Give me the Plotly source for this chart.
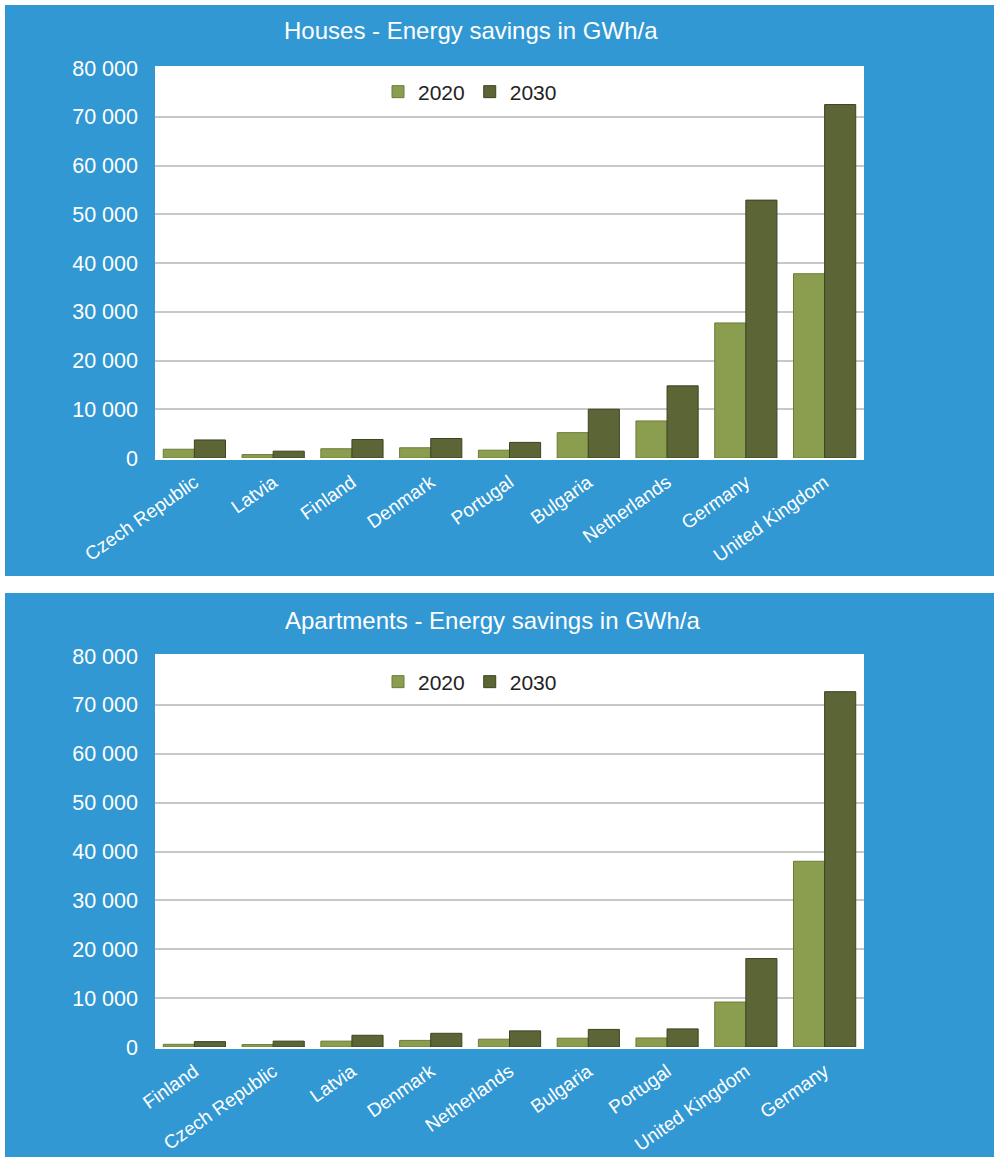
import plotly.graph_objects as go

# Energy savings (GWh/a) by country, houses
houses_countries = ["Czech Republic", "Latvia", "Finland", "Denmark", "Portugal",
                    "Bulgaria", "Netherlands", "Germany", "United Kingdom"]
houses_2020 = [1800, 700, 1900, 2100, 1600, 5200, 7600, 27700, 37800]
houses_2030 = [3700, 1400, 3800, 4000, 3200, 10000, 14800, 52900, 72500]

# Energy savings (GWh/a) by country, apartments
apt_countries = ["Finland", "Czech Republic", "Latvia", "Denmark", "Netherlands",
                 "Bulgaria", "Portugal", "United Kingdom", "Germany"]
apt_2020 = [550, 500, 1200, 1350, 1600, 1800, 1850, 9200, 38000]
apt_2030 = [1100, 1200, 2400, 2800, 3300, 3600, 3700, 18100, 72700]

series_names = ["2020", "2030"]
y_ticks = [0, 10000, 20000, 30000, 40000, 50000, 60000, 70000, 80000]

W, H = 994, 1159
BLUE = "#3298d3"
FONT = "Liberation Sans, Arial, sans-serif"
COL_2020 = "#8b9e50"
EDGE_2020 = "#6c7c38"
COL_2030 = "#5b6536"
EDGE_2030 = "#3c4422"


def py(px):
    """pixel row -> paper y"""
    return 1 - px / H


def px_x(px):
    return px / W


fig = go.Figure()

panels = [
    ("x", "y", "legend", houses_countries, houses_2020, houses_2030),
    ("x2", "y2", "legend2", apt_countries, apt_2020, apt_2030),
]
for xa, ya, lg, cats, v20, v30 in panels:
    fig.add_trace(go.Bar(
        x=cats, y=v20, name=series_names[0], xaxis=xa, yaxis=ya, legend=lg,
        marker=dict(color=COL_2020, line=dict(color=EDGE_2020, width=1)),
    ))
    fig.add_trace(go.Bar(
        x=cats, y=v30, name=series_names[1], xaxis=xa, yaxis=ya, legend=lg,
        marker=dict(color=COL_2030, line=dict(color=EDGE_2030, width=1)),
    ))

x_dom = [px_x(155), px_x(864)]
top_dom = [py(458), py(68)]
bot_dom = [py(1047), py(656)]

xaxis_style = dict(
    domain=x_dom, type="category", tickangle=-35, automargin=False,
    tickfont=dict(family=FONT, size=19, color="white"),
    showgrid=False, showline=True, linecolor="white", linewidth=2, mirror=True,
    ticks="", ticklabelstandoff=4, fixedrange=True,
)
yaxis_style = dict(
    range=[0, 80000], tickvals=y_ticks, tickformat=",d", automargin=False,
    tickfont=dict(family=FONT, size=21.5, color="white"),
    showgrid=True, gridcolor="#c8c8c8", gridwidth=1.5,
    zeroline=False, showline=False, ticks="", ticklabelstandoff=16,
    fixedrange=True,
)

shapes = [
    # blue panel backgrounds
    dict(type="rect", xref="paper", yref="paper", x0=px_x(5), x1=1,
         y0=py(576), y1=py(5), fillcolor=BLUE, line=dict(width=0), layer="below"),
    dict(type="rect", xref="paper", yref="paper", x0=px_x(5), x1=1,
         y0=py(1157), y1=py(593), fillcolor=BLUE, line=dict(width=0), layer="below"),
    # white plotting areas
    dict(type="rect", xref="x domain", yref="y domain", x0=0, x1=1, y0=0, y1=1,
         fillcolor="white", line=dict(width=0), layer="below"),
    dict(type="rect", xref="x2 domain", yref="y2 domain", x0=0, x1=1, y0=0, y1=1,
         fillcolor="white", line=dict(width=0), layer="below"),
]

title_font = dict(family=FONT, size=24, color="white")
annotations = [
    dict(text="Houses - Energy savings in GWh/a", xref="paper", yref="paper",
         x=px_x(471), y=py(30), xanchor="center", yanchor="middle",
         showarrow=False, font=title_font),
    dict(text="Apartments - Energy savings in GWh/a", xref="paper", yref="paper",
         x=px_x(492), y=py(620), xanchor="center", yanchor="middle",
         showarrow=False, font=title_font),
]

legend_style = dict(
    orientation="h", xanchor="center", yanchor="middle",
    bgcolor="rgba(0,0,0,0)", font=dict(family=FONT, size=21, color="#222222"),
    itemwidth=30, traceorder="normal",
)

fig.update_layout(
    width=W, height=H, autosize=False,
    margin=dict(l=0, r=0, t=0, b=0, pad=0, autoexpand=False),
    paper_bgcolor="white", plot_bgcolor="rgba(0,0,0,0)",
    separators=". ",
    barmode="group", bargap=0.21, bargroupgap=0,
    xaxis=dict(xaxis_style, anchor="y"),
    yaxis=dict(yaxis_style, domain=top_dom, anchor="x"),
    xaxis2=dict(xaxis_style, anchor="y2"),
    yaxis2=dict(yaxis_style, domain=bot_dom, anchor="x2"),
    legend=dict(legend_style, x=px_x(470), y=py(92)),
    legend2=dict(legend_style, x=px_x(470), y=py(682)),
    shapes=shapes,
    annotations=annotations,
    font=dict(family=FONT),
)

fig.write_html("out.html")
